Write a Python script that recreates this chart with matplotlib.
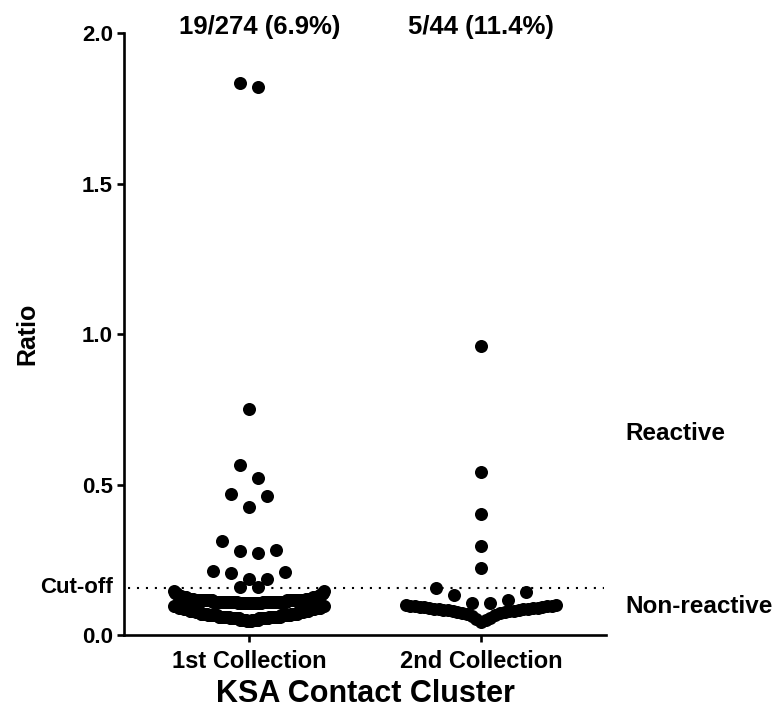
"""
Scatter dot plot of antibody ratios for the KSA contact cluster,
laid out in the column style used by GraphPad Prism.
"""

import numpy as np
import matplotlib

matplotlib.use("Agg")
import matplotlib.pyplot as plt
import matplotlib.transforms as mtransforms

plt.rcParams["font.family"] = ["Liberation Sans", "DejaVu Sans"]
plt.rcParams["font.weight"] = "bold"

# Column names and their header counts
GROUPS = ["1st Collection", "2nd Collection"]
HEADERS = ["19/274 (6.9%)", "5/44 (11.4%)"]

# 1st collection: the reactive samples, read one by one
REACTIVE_1 = [1.835, 1.821, 0.750, 0.564, 0.521, 0.470, 0.462, 0.426,
              0.312, 0.281, 0.280, 0.274, 0.214, 0.210, 0.205, 0.187,
              0.186, 0.161, 0.159]
# 1st collection: the dense non-reactive block, as value levels and counts
NONREACTIVE_1_LEVELS = [0.045, 0.050, 0.055, 0.060, 0.065, 0.070, 0.075,
                        0.080, 0.085, 0.090, 0.095, 0.105, 0.110, 0.115,
                        0.120, 0.125, 0.130, 0.135, 0.140, 0.145]
NONREACTIVE_1_COUNTS = [4, 12, 18, 20, 18, 12, 10, 10, 10, 9, 9,
                        20, 40, 30, 12, 8, 5, 3, 3, 2]

# 2nd collection: every sample
REACTIVE_2 = [0.960, 0.543, 0.402, 0.297, 0.222]
NONREACTIVE_2 = [0.155, 0.144, 0.133, 0.116, 0.107, 0.105,
                 0.099, 0.099, 0.098, 0.097, 0.096, 0.095, 0.094, 0.093,
                 0.092, 0.091, 0.090, 0.089, 0.088, 0.087, 0.086, 0.085,
                 0.084, 0.083, 0.082, 0.081, 0.080, 0.079, 0.078, 0.076,
                 0.074, 0.072, 0.069, 0.066, 0.062, 0.058, 0.054, 0.050,
                 0.044]

CUT_OFF = 0.157

# Layout of the dots inside a column (x in category units)
ROW_EDGES = [0.10, 0.157, 0.17, 0.24, 0.33, 0.40, 0.50, 0.60, 0.70, 1.0, 1.5]
DOT_STEP = 0.0776
MAX_ROW_WIDTH = 0.65


def column_offsets(values):
    """
    Spread the values of one column sideways, Prism style.

    Values are binned into rows; inside a row the lowest value sits in the
    middle and the rest alternate right / left, packed tighter when the row
    would get wider than MAX_ROW_WIDTH.
    """
    vals = np.asarray(values, dtype=float)
    offsets = np.zeros(len(vals))
    rows = np.digitize(vals, ROW_EDGES)
    for row in np.unique(rows):
        idx = np.where(rows == row)[0]
        idx = idx[np.argsort(vals[idx], kind="stable")]
        n = len(idx)
        step = min(DOT_STEP, MAX_ROW_WIDTH / max(n - 1, 1))
        for k, i in enumerate(idx):
            if n % 2:
                slot = (k + 1) // 2 if k % 2 else -(k // 2)
            else:
                slot = k // 2 + 0.5 if k % 2 == 0 else -((k - 1) // 2 + 0.5)
            offsets[i] = slot * step
    return offsets


column_1 = np.concatenate([REACTIVE_1,
                           np.repeat(NONREACTIVE_1_LEVELS, NONREACTIVE_1_COUNTS)])
column_2 = np.concatenate([REACTIVE_2, NONREACTIVE_2])

fig = plt.figure(figsize=(7.78, 7.09), dpi=100)
ax = fig.add_axes([124 / 778, 1 - 635 / 709, 482 / 778, 601.7 / 709])

for pos, column in enumerate([column_1, column_2]):
    ax.scatter(pos + column_offsets(column), column, s=88, c="black",
               linewidths=0, zorder=3, clip_on=False)

# Dotted cut-off line across the plot
ax.axhline(CUT_OFF, xmin=0.008, xmax=0.995, color="black", lw=1.5,
           linestyle=(0, (1, 3.3)), zorder=2)

ax.set_xlim(-0.539, 1.539)
ax.set_ylim(0, 2.0)
ax.set_yticks([0.0, 0.5, 1.0, 1.5, 2.0])
ax.set_yticklabels(["0.0", "0.5", "1.0", "1.5", "2.0"])
ax.set_xticks(range(len(GROUPS)))
ax.set_xticklabels(GROUPS)

for side in ["top", "right"]:
    ax.spines[side].set_visible(False)
for side in ["left", "bottom"]:
    ax.spines[side].set_linewidth(1.9)
ax.tick_params(axis="both", direction="out", length=5, width=1.9)
ax.tick_params(axis="y", pad=3, labelsize=16)
ax.tick_params(axis="x", pad=6, labelsize=17)

ax.set_ylabel("Ratio", fontsize=18, fontweight="bold")
ax.yaxis.set_label_coords(-0.176, 0.5)
ax.set_xlabel("KSA Contact Cluster", fontsize=22, fontweight="bold")
ax.xaxis.set_label_coords(0.5, -0.073)

# Cut-off label sits with the y tick labels
trans = mtransforms.blended_transform_factory(ax.transAxes, ax.transData)
ax.text(-0.0228, CUT_OFF, "Cut-off", transform=trans, ha="right",
        va="center", fontsize=16, fontweight="bold")

# Header counts above each column
for pos, text in zip([0.047, 1.0], HEADERS):
    ax.text(pos, 2.02, text, ha="center", va="center", fontsize=18.5,
            fontweight="bold", clip_on=False)

# Region labels on the right
ax.text(1.621, 0.671, "Reactive", ha="left", va="center", fontsize=17.5,
        fontweight="bold", clip_on=False)
ax.text(1.621, 0.095, "Non-reactive", ha="left", va="center", fontsize=17.5,
        fontweight="bold", clip_on=False)

fig.savefig("out.png", dpi=100)
